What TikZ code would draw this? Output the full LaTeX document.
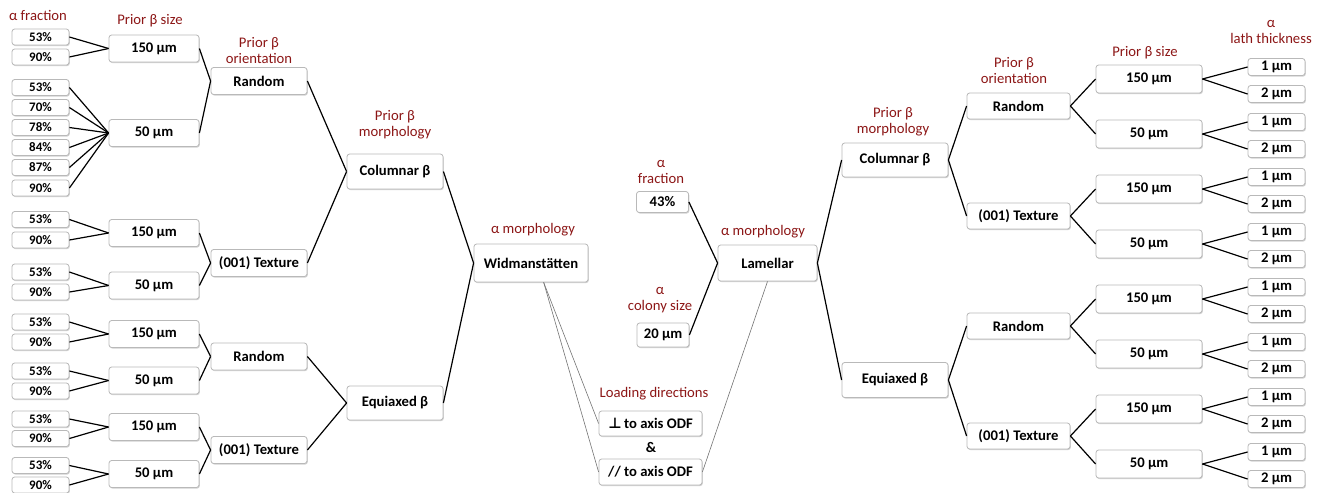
\documentclass[tikz,border=0pt]{standalone}
\usepackage{fontspec}
\setmainfont{Carlito}
\newfontfamily\symfont{DejaVu Sans}
\usetikzlibrary{shadows}
\definecolor{lblred}{RGB}{140,22,22}
\definecolor{bordergray}{RGB}{185,185,185}
\tikzset{
  bx/.style 2 args={draw=bordergray, line width=0.6pt, fill=white, rounded corners=2pt,
    inner sep=0pt, minimum width=#1*0.75pt, minimum height=#2*0.75pt,
    font=\fontsize{11}{12}\selectfont\bfseries,
    drop shadow={shadow xshift=0.6pt, shadow yshift=-0.8pt, opacity=0.3, fill=black!60}},
  pct/.style={bx={57}{16}, font=\fontsize{9.75}{10}\selectfont\bfseries},
  lbl/.style={text=lblred, font=\fontsize{11}{12}\selectfont, align=center, inner sep=0pt},
  conn/.style={line width=0.9pt, black},
  thinconn/.style={line width=0.45pt, black!55},
}
\begin{document}
\begin{tikzpicture}[x=0.75pt, y=-0.75pt]
\useasboundingbox (0,0) rectangle (1322,493);

% ---------- left: alpha fraction boxes ----------
\node[pct] (p1a) at (40.5,37) {53\%};
\node[pct] (p1b) at (40.5,57) {90\%};
\node[pct] (p2a) at (40.5,87.5) {53\%};
\node[pct] (p2b) at (40.5,107.5) {70\%};
\node[pct] (p2c) at (40.5,127.5) {78\%};
\node[pct] (p2d) at (40.5,147.5) {84\%};
\node[pct] (p2e) at (40.5,167.5) {87\%};
\node[pct] (p2f) at (40.5,188) {90\%};
\node[pct] (p3a) at (40.5,219.5) {53\%};
\node[pct] (p3b) at (40.5,240) {90\%};
\node[pct] (p4a) at (40.5,272) {53\%};
\node[pct] (p4b) at (40.5,292) {90\%};
\node[pct] (p5a) at (40.5,322) {53\%};
\node[pct] (p5b) at (40.5,342) {90\%};
\node[pct] (p6a) at (40.5,371) {53\%};
\node[pct] (p6b) at (40.5,391) {90\%};
\node[pct] (p7a) at (40.5,419) {53\%};
\node[pct] (p7b) at (40.5,438.5) {90\%};
\node[pct] (p8a) at (40.5,465.5) {53\%};
\node[pct] (p8b) at (40.5,485) {90\%};

% ---------- left: prior beta size ----------
\node[bx={90}{27}] (s1) at (154,48.5) {150 µm};
\node[bx={90}{27}] (s2) at (154,133) {50 µm};
\node[bx={90}{27}] (s3) at (154,233) {150 µm};
\node[bx={90}{27}] (s4) at (154,285.5) {50 µm};
\node[bx={90}{27}] (s5) at (154,334) {150 µm};
\node[bx={90}{27}] (s6) at (154,380.5) {50 µm};
\node[bx={90}{27}] (s7) at (154,427) {150 µm};
\node[bx={90}{27}] (s8) at (154,474) {50 µm};

% ---------- left: orientation ----------
\node[bx={96}{27}] (o1) at (259,81) {Random};
\node[bx={96}{27}] (o2) at (259,263) {(001) Texture};
\node[bx={96}{27}] (o3) at (259,356.5) {Random};
\node[bx={96}{27}] (o4) at (259,450) {(001) Texture};

% ---------- left: morphology ----------
\node[bx={96}{35}] (cL) at (395,171.5) {Columnar β};
\node[bx={96}{34}] (eL) at (395,403) {Equiaxed β};
\node[bx={114}{38}] (wid) at (531,263) {Widmanstätten};

% ---------- middle ----------
\node[bx={103}{25}] (ld1) at (650.5,423.5) {{\symfont\bfseries ⊥}\,to axis ODF};
\node[font=\fontsize{11}{12}\selectfont\bfseries, inner sep=0pt] (amp) at (651,447) {\&};
\node[bx={103}{26}] (ld2) at (650.5,472) {// to axis ODF};
\node[bx={52}{21}] (f43) at (662.5,202) {43\%};
\node[bx={52}{24}] (c20) at (663,335) {20 µm};
\node[bx={99}{36}] (lam) at (767.5,263) {Lamellar};

% ---------- right ----------
\node[bx={106}{34}] (cR) at (895,160) {Columnar β};
\node[bx={106}{35}] (eR) at (895,380) {Equiaxed β};
\node[bx={103}{26}] (oR1) at (1018.5,106) {Random};
\node[bx={103}{26}] (oR2) at (1018.5,216) {(001) Texture};
\node[bx={103}{26}] (oR3) at (1018.5,326) {Random};
\node[bx={103}{26}] (oR4) at (1018.5,436) {(001) Texture};
\foreach \k/\t in {1/150,2/50,3/150,4/50,5/150,6/50,7/150,8/50}{
  \node[bx={106}{28}] (sR\k) at (1149,{79+55*(\k-1)}) {\t\ µm};
  \node[bx={57}{17}] (ta\k) at (1276.5,{67+55*(\k-1)}) {1 µm};
  \node[bx={57}{17}] (tb\k) at (1276.5,{94+55*(\k-1)}) {2 µm};
}

% ---------- labels ----------
\node[lbl] (l1) at (38,15) {α fraction};
\node[lbl] (l2) at (150,21) {Prior β size};
\node[lbl] (l3) at (259,50.5) {Prior β\\orientation};
\node[lbl] (l4) at (395,125) {Prior β\\morphology};
\node[lbl] (l5) at (533,230) {α morphology};
\node[lbl] (l6) at (661,171.5) {α\\fraction};
\node[lbl] (l7) at (660,300.5) {α\\colony size};
\node[lbl] (l8) at (654,394) {Loading directions};
\node[lbl] (l9) at (763,232) {α morphology};
\node[lbl] (l10) at (893,121.5) {Prior β\\morphology};
\node[lbl] (l11) at (1014,70.5) {Prior β\\orientation};
\node[lbl] (l12) at (1145,53) {Prior β size};
\node[lbl] (l13) at (1271,32) {α\\lath thickness};

% ---------- connectors: left ----------
\foreach \a in {p1a,p1b} \draw[conn] (\a.east) -- (s1.west);
\foreach \a in {p2a,p2b,p2c,p2d,p2e,p2f} \draw[conn] (\a.east) -- (s2.west);
\foreach \a in {p3a,p3b} \draw[conn] (\a.east) -- (s3.west);
\foreach \a in {p4a,p4b} \draw[conn] (\a.east) -- (s4.west);
\foreach \a in {p5a,p5b} \draw[conn] (\a.east) -- (s5.west);
\foreach \a in {p6a,p6b} \draw[conn] (\a.east) -- (s6.west);
\foreach \a in {p7a,p7b} \draw[conn] (\a.east) -- (s7.west);
\foreach \a in {p8a,p8b} \draw[conn] (\a.east) -- (s8.west);
\foreach \a in {s1,s2} \draw[conn] (\a.east) -- (o1.west);
\foreach \a in {s3,s4} \draw[conn] (\a.east) -- (o2.west);
\foreach \a in {s5,s6} \draw[conn] (\a.east) -- (o3.west);
\foreach \a in {s7,s8} \draw[conn] (\a.east) -- (o4.west);
\foreach \a in {o1,o2} \draw[conn] (\a.east) -- (cL.west);
\foreach \a in {o3,o4} \draw[conn] (\a.east) -- (eL.west);
\foreach \a in {cL,eL} \draw[conn] (\a.east) -- (wid.west);

% ---------- connectors: middle ----------
\draw[thinconn] ([xshift=9.5pt]wid.south) -- (ld1.west);
\draw[thinconn] ([xshift=9.5pt]wid.south) -- (ld2.west);
\draw[thinconn] (lam.south) -- (ld2.east);
\draw[conn] (f43.east) -- (lam.west);
\draw[conn] (c20.east) -- (lam.west);
\draw[conn] (lam.east) -- (cR.west);
\draw[conn] (lam.east) -- (eR.west);

% ---------- connectors: right ----------
\foreach \a in {oR1,oR2} \draw[conn] (cR.east) -- (\a.west);
\foreach \a in {oR3,oR4} \draw[conn] (eR.east) -- (\a.west);
\foreach \a in {sR1,sR2} \draw[conn] (oR1.east) -- (\a.west);
\foreach \a in {sR3,sR4} \draw[conn] (oR2.east) -- (\a.west);
\foreach \a in {sR5,sR6} \draw[conn] (oR3.east) -- (\a.west);
\foreach \a in {sR7,sR8} \draw[conn] (oR4.east) -- (\a.west);
\foreach \k in {1,...,8}{
  \draw[conn] (sR\k.east) -- (ta\k.west);
  \draw[conn] (sR\k.east) -- (tb\k.west);
}
\end{tikzpicture}
\end{document}
